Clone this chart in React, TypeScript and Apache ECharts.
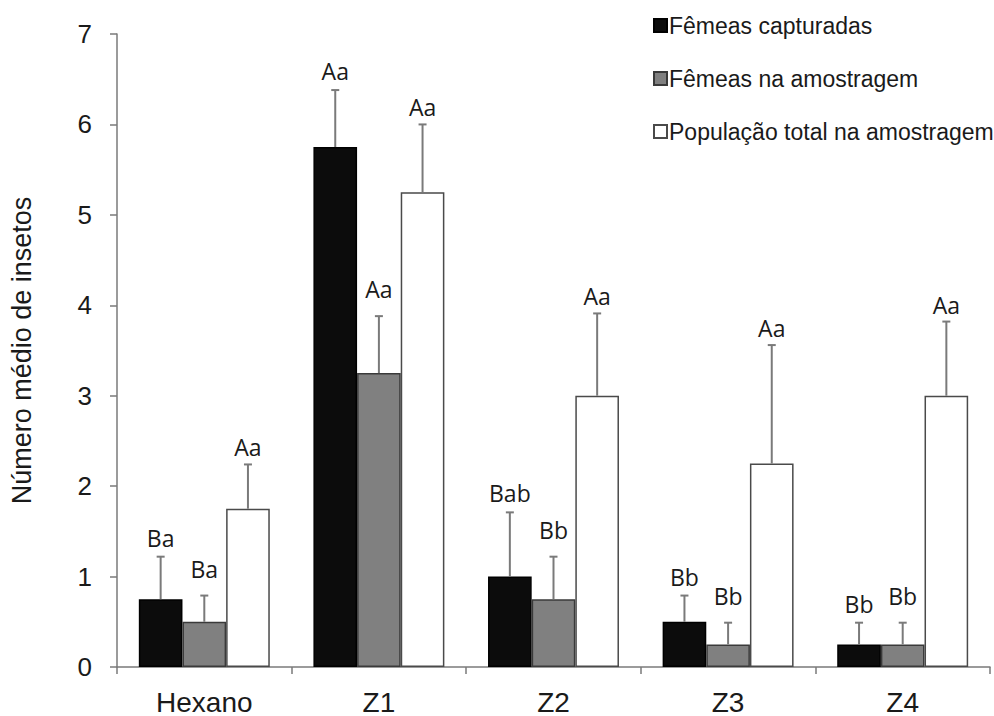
import React, { useEffect, useRef } from "react";
import * as echarts from "echarts";

const categories = ["Hexano", "Z1", "Z2", "Z3", "Z4"];
const seriesNames = ["Fêmeas capturadas", "Fêmeas na amostragem", "População total na amostragem"];

const femeasCapturadas = [0.75, 5.75, 1.0, 0.5, 0.25];
const femeasAmostragem = [0.5, 3.25, 0.75, 0.25, 0.25];
const populacaoTotal = [1.75, 5.25, 3.0, 2.25, 3.0];

const errCapturadas = [0.47, 0.63, 0.71, 0.29, 0.24];
const errAmostragem = [0.29, 0.63, 0.47, 0.24, 0.24];
const errPopulacao = [0.49, 0.75, 0.91, 1.31, 0.82];

const lblCapturadas = ["Ba", "Aa", "Bab", "Bb", "Bb"];
const lblAmostragem = ["Ba", "Aa", "Bb", "Bb", "Bb"];
const lblPopulacao = ["Aa", "Aa", "Aa", "Aa", "Aa"];

const yTicks = [0, 1, 2, 3, 4, 5, 6, 7];

const values = [femeasCapturadas, femeasAmostragem, populacaoTotal];
const errors = [errCapturadas, errAmostragem, errPopulacao];
const letters = [lblCapturadas, lblAmostragem, lblPopulacao];

const fills = ["#0c0c0c", "#808080", "#ffffff"];
const borders = ["#000000", "#3a3a3a", "#4a4a4a"];
const labelOffsets = [19, 27, 17];

export default function App() {
  const ref = useRef<HTMLDivElement>(null);
  useEffect(() => {
    if (!ref.current) return;
    const chart = echarts.init(ref.current, null, { renderer: "svg" });
    const axisFont = "'Liberation Sans', Arial, sans-serif";

    const barSeries = values.map((vals, i) => ({
      name: seriesNames[i],
      type: "bar",
      data: vals,
      barWidth: "25%",
      barGap: "0%",
      itemStyle: { color: fills[i], borderColor: borders[i], borderWidth: 1.5 },
      z: 2,
    }));

    const errSeries = values.map((vals, i) => ({
      name: "err" + i,
      type: "custom",
      data: vals.map((v, c) => [c, v, errors[i][c]]),
      encode: { x: 0, y: 1 },
      clip: false,
      z: 3,
      renderItem: (params: any, api: any) => {
        const c = api.value(0);
        const v = api.value(1);
        const e = api.value(2);
        const bandW = api.size([1, 0])[0];
        const barW = bandW * 0.25;
        const base = api.coord([c, v]);
        const top = api.coord([c, v + e]);
        const x = base[0] + (i - 1) * barW;
        return {
          type: "group",
          children: [
            {
              type: "line",
              shape: { x1: x, y1: base[1], x2: x, y2: top[1] },
              style: { stroke: "#7a7a7a", lineWidth: 2 },
            },
            {
              type: "line",
              shape: { x1: x - 4, y1: top[1], x2: x + 4, y2: top[1] },
              style: { stroke: "#7a7a7a", lineWidth: 2 },
            },
            {
              type: "text",
              x: x,
              y: top[1] - labelOffsets[i],
              style: {
                text: letters[i][c],
                fill: "#1a1a1a",
                font: "23px 'Open Sans', sans-serif",
                align: "center",
                verticalAlign: "middle",
              },
            },
          ],
        };
      },
    }));

    chart.setOption({
      animation: false,
      grid: { left: 107, right: 4, top: 34, bottom: 49, containLabel: false },
      legend: {
        data: seriesNames,
        orient: "vertical",
        left: 653,
        top: 14,
        padding: 0,
        itemWidth: 13,
        itemHeight: 13,
        itemGap: 30,
        icon: "rect",
        selectedMode: false,
        textStyle: { fontSize: 23, fontFamily: axisFont, color: "#1a1a1a", padding: [0, 0, 0, -3] },
      },
      xAxis: {
        type: "category",
        data: categories,
        boundaryGap: true,
        axisLine: { lineStyle: { color: "#7a7a7a", width: 1.5 } },
        axisTick: { show: true, alignWithLabel: false, length: 7, lineStyle: { color: "#7a7a7a", width: 1.5 } },
        axisLabel: { fontSize: 28, fontFamily: axisFont, color: "#1a1a1a", margin: 21 },
        splitLine: { show: false },
      },
      yAxis: {
        type: "value",
        min: yTicks[0],
        max: yTicks[yTicks.length - 1],
        interval: 1,
        name: "Número médio de insetos",
        nameLocation: "middle",
        nameRotate: 90,
        nameGap: 82,
        nameTextStyle: { fontSize: 27, fontFamily: axisFont, color: "#1a1a1a" },
        axisLine: { show: true, lineStyle: { color: "#7a7a7a", width: 1.5 } },
        axisTick: { show: true, inside: false, length: 7, lineStyle: { color: "#7a7a7a", width: 1.5 } },
        axisLabel: { fontSize: 26, fontFamily: axisFont, color: "#1a1a1a", margin: 25 },
        splitLine: { show: false },
      },
      series: [...barSeries, ...errSeries],
    });
    return () => chart.dispose();
  }, []);
  return <div ref={ref} style={{ width: 994, height: 716, position: "absolute", left: 0, top: 0 }} />;
}
